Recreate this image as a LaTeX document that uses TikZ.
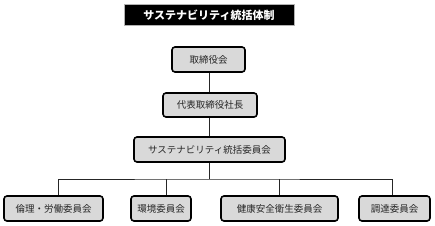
\documentclass[tikz,border=0pt]{standalone}
\usepackage{fontspec}
\newfontfamily\cjk{Noto Sans CJK JP}
\newfontfamily\cjkb{Noto Sans CJK JP}[FakeBold=0]
\begin{document}
\begin{tikzpicture}[x=1pt,y=-1pt,
  box/.style={draw=black,line width=1.6pt,rounded corners=3pt,fill=gray!30,inner sep=0pt,font=\cjk\fontsize{9.5}{10}\selectfont,text=black!85},
  link/.style={draw=black!85,line width=1pt}]
\useasboundingbox (0,0) rectangle (435,225);
\node[fill=black,draw=gray!60,line width=0.6pt,minimum width=170pt,minimum height=21pt,inner sep=0pt,text=white,font=\cjk\bfseries\fontsize{11}{12}\selectfont] (title) at (209,15) {サステナビリティ統括体制};
\node[box,minimum width=73pt,minimum height=25pt] (b1) at (208.5,59.5) {取締役会};
\node[box,minimum width=94pt,minimum height=24pt] (b2) at (210,105) {代表取締役社長};
\node[box,minimum width=151pt,minimum height=25pt] (b3) at (209.5,149.5) {サステナビリティ統括委員会};
\node[box,minimum width=99pt,minimum height=25pt] (c1) at (53.5,208.5) {倫理・労働委員会};
\node[box,minimum width=60pt,minimum height=25pt] (c2) at (161,208.5) {環境委員会};
\node[box,minimum width=117pt,minimum height=25pt] (c3) at (279.5,208.5) {健康安全衛生委員会};
\node[box,minimum width=71pt,minimum height=25pt] (c4) at (394.5,208.5) {調達委員会};
\coordinate (j) at (209,179);
\path[link] (b1.south -| j) -- (b2.north -| j);
\path[link] (b2.south -| j) -- (b3.north -| j);
\path[link] (b3.south -| j) -- (j);
\path[link] (c1.north -| 58,0) |- (j) -| (c4.north -| 392,0);
\path[link] (c2.north -| 166,0) -- (166,179);
\path[link] (c3.north -| 279,0) -- (279,179);
\end{tikzpicture}
\end{document}
